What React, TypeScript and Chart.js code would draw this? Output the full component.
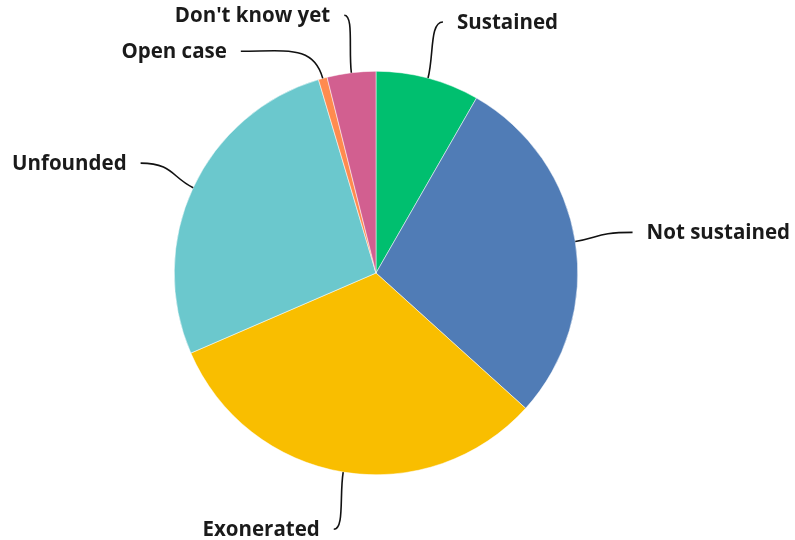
import React, { useEffect, useRef } from "react";
import { Chart, registerables } from "chart.js";

Chart.register(...registerables);

const labels = ["Sustained", "Not sustained", "Exonerated", "Unfounded", "Open case", "Don't know yet"];
const values = [8.3, 28.4, 31.8, 26.9, 0.7, 3.9];
const colors = ["#00BF6F", "#507CB6", "#F9BE00", "#6BC8CD", "#FF8B4F", "#D25F90"];

const FONT = "bold 20.5px 'Open Sans', sans-serif";

const calloutPlugin = {
  id: "callouts",
  afterDraw(chart: any) {
    const ctx = chart.ctx;
    const meta = chart.getDatasetMeta(0);
    const items: any[] = [];
    meta.data.forEach((arc: any, i: number) => {
      const p = arc.getProps(["x", "y", "startAngle", "endAngle", "outerRadius"], true);
      const mid = (p.startAngle + p.endAngle) / 2;
      const dx = Math.cos(mid), dy = Math.sin(mid);
      const r = p.outerRadius;
      const R = r + 58;
      items.push({
        i, cx: p.x, cy: p.y, r, R, dx, dy,
        x0: p.x + r * dx, y0: p.y + r * dy,
        ex: p.x + R * dx, ey: p.y + R * dy,
        side: dx >= 0 ? 1 : -1,
      });
    });
    const gap = 36;
    [1, -1].forEach((s) => {
      const group = items.filter((it) => it.side === s).sort((a, b) => a.ey - b.ey);
      for (let k = 1; k < group.length; k++) {
        if (group[k].ey < group[k - 1].ey + gap) {
          group[k].ey = group[k - 1].ey + gap;
          const ddy = group[k].ey - group[k].cy;
          const h = Math.sqrt(Math.max(0, group[k].R * group[k].R - ddy * ddy));
          group[k].ex = group[k].cx + s * h;
        }
      }
    });
    ctx.save();
    ctx.strokeStyle = "#111";
    ctx.lineWidth = 1.6;
    ctx.font = FONT;
    ctx.fillStyle = "#1a1a1a";
    ctx.textBaseline = "middle";
    items.forEach((it) => {
      const dist = Math.hypot(it.ex - it.x0, it.ey - it.y0);
      const p1x = it.x0 + it.dx * dist * 0.4;
      const p1y = it.y0 + it.dy * dist * 0.4;
      const hx = Math.abs(it.ex - it.x0) * 0.5 + 6;
      const p2x = it.ex - it.side * hx;
      const p2y = it.ey;
      ctx.beginPath();
      ctx.moveTo(it.x0, it.y0);
      ctx.bezierCurveTo(p1x, p1y, p2x, p2y, it.ex, it.ey);
      ctx.stroke();
      ctx.textAlign = it.side > 0 ? "left" : "right";
      ctx.fillText(labels[it.i], it.ex + it.side * 14, it.ey + 1);
    });
    ctx.restore();
  },
};

export default function App() {
  const ref = useRef<HTMLCanvasElement>(null);
  useEffect(() => {
    if (!ref.current) return;
    const chart = new Chart(ref.current, {
      type: "pie",
      data: {
        labels,
        datasets: [
          {
            data: values,
            backgroundColor: colors,
            borderColor: "#ffffff",
            borderWidth: 0.5,
          },
        ],
      },
      options: {
        responsive: false,
        animation: false,
        layout: { padding: { top: 71, bottom: 65, left: 174, right: 217 } },
        plugins: {
          legend: { display: false },
          tooltip: { enabled: false },
        },
      },
      plugins: [calloutPlugin],
    });
    return () => chart.destroy();
  }, []);
  return (
    <div style={{ position: "absolute", left: 0, top: 0, width: 795, height: 540, background: "#fff" }}>
      <canvas ref={ref} width={795} height={540} />
    </div>
  );
}
